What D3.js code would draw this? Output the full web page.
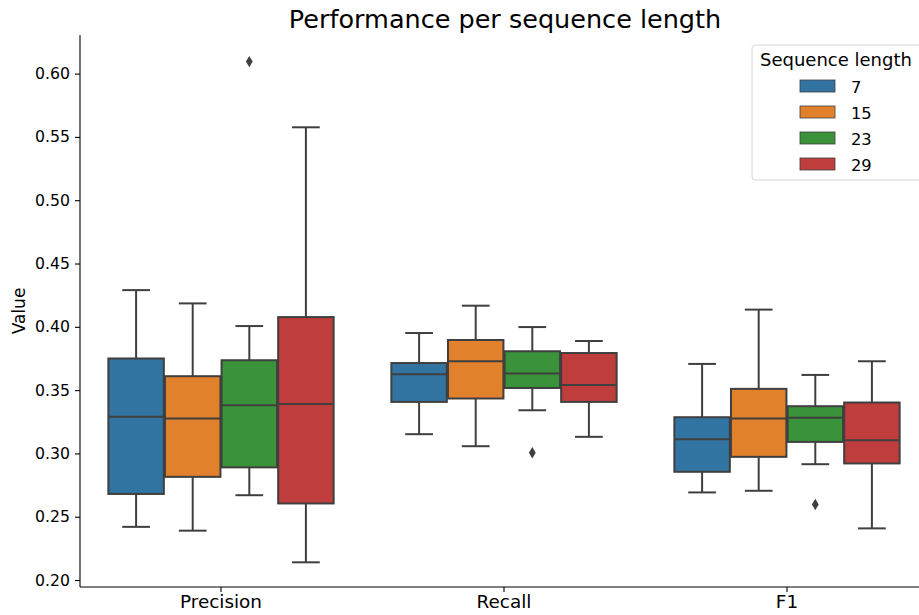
<!DOCTYPE html>
<html>
<head>
<meta charset="utf-8">
<script src="https://cdn.jsdelivr.net/npm/d3@7"></script>
<style>
  body { margin: 0; background: #fff; }
  svg { display: block; font-family: "DejaVu Sans", sans-serif; }
</style>
</head>
<body>
<svg id="chart" width="919" height="615"></svg>
<script>
// Metrics on the x axis and the sequence lengths used as hue
const metrics = ["Precision", "Recall", "F1"];
const seqLengths = ["7", "15", "23", "29"];
const palette = ["#3274a1", "#e1812c", "#3a923a", "#c03d3e"];

// Box summaries per metric, one per sequence length: [whiskerLow, q1, median, q3, whiskerHigh]
const precisionStats = [
  [0.242, 0.268, 0.329, 0.375, 0.429],
  [0.239, 0.2815, 0.3276, 0.361, 0.4185],
  [0.267, 0.289, 0.338, 0.3736, 0.4006],
  [0.214, 0.2605, 0.339, 0.4077, 0.5576]
];
const recallStats = [
  [0.3152, 0.3407, 0.3625, 0.3714, 0.3951],
  [0.3057, 0.3434, 0.3728, 0.3896, 0.4167],
  [0.3341, 0.3517, 0.3631, 0.3807, 0.3998],
  [0.3131, 0.3407, 0.3541, 0.3793, 0.3888]
];
const f1Stats = [
  [0.2692, 0.2855, 0.3112, 0.3286, 0.3707],
  [0.2705, 0.2973, 0.3276, 0.351, 0.4136],
  [0.2915, 0.3091, 0.3281, 0.3373, 0.362],
  [0.2408, 0.2921, 0.3105, 0.3402, 0.3728]
];
// Outliers: [metric, sequence length, value]
const outliers = [
  ["Precision", "23", 0.6095],
  ["Recall", "23", 0.3005],
  ["F1", "23", 0.2597]
];
const yTicks = [0.20, 0.25, 0.30, 0.35, 0.40, 0.45, 0.50, 0.55, 0.60];

const statsByMetric = { Precision: precisionStats, Recall: recallStats, F1: f1Stats };

const svg = d3.select("#chart");
const plotLeft = 80, plotRight = 928.5, plotTop = 35, plotBottom = 587;
const fontFamily = "DejaVu Sans, sans-serif";

const x = d3.scaleBand().domain(metrics).range([plotLeft - 0.5, plotRight]).padding(0);
const hue = d3.scaleBand().domain(seqLengths)
  .range([0, x.bandwidth() * 0.8]).padding(0);
const y = d3.scaleLinear().domain([0.1945, 0.6305]).range([plotBottom, plotTop]);
const color = d3.scaleOrdinal().domain(seqLengths).range(palette);

const lineColor = "#3f3f3f";

// Axes
const yAxis = svg.append("g")
  .attr("transform", `translate(${plotLeft},0)`)
  .call(d3.axisLeft(y).tickValues(yTicks).tickFormat(d3.format(".2f")).tickSize(5).tickPadding(5))
  .attr("font-family", fontFamily);
yAxis.select(".domain").attr("d", `M0,${plotTop}V${plotBottom}`).attr("stroke", "#000").attr("stroke-width", 1.1);
yAxis.selectAll(".tick line").attr("stroke", "#000").attr("stroke-width", 1.1);
yAxis.selectAll(".tick text").attr("font-size", 15.7).attr("fill", "#000");

const xAxis = svg.append("g")
  .attr("transform", `translate(0,${plotBottom})`)
  .call(d3.axisBottom(x).tickSize(5).tickPadding(3))
  .attr("font-family", fontFamily);
xAxis.select(".domain").attr("d", `M${plotLeft},0H${plotRight}`).attr("stroke", "#000").attr("stroke-width", 1.1);
xAxis.selectAll(".tick line").attr("stroke", "#000").attr("stroke-width", 1.1);
xAxis.selectAll(".tick text").attr("font-size", 18.4).attr("fill", "#000");

// Boxes
const boxes = [];
metrics.forEach(m => {
  statsByMetric[m].forEach((s, i) => {
    boxes.push({ metric: m, seq: seqLengths[i], lo: s[0], q1: s[1], med: s[2], q3: s[3], hi: s[4] });
  });
});

const groupOffset = x.bandwidth() * 0.1;
const plot = svg.append("g");
const bw = hue.bandwidth();
const boxW = bw * 0.98;

const g = plot.selectAll("g.box").data(boxes).join("g").attr("class", "box")
  .attr("transform", d => `translate(${x(d.metric) + groupOffset + hue(d.seq) + (bw - boxW) / 2},0)`);

// whiskers
g.append("line").attr("x1", boxW / 2).attr("x2", boxW / 2)
  .attr("y1", d => y(d.hi)).attr("y2", d => y(d.q3))
  .attr("stroke", lineColor).attr("stroke-width", 2);
g.append("line").attr("x1", boxW / 2).attr("x2", boxW / 2)
  .attr("y1", d => y(d.q1)).attr("y2", d => y(d.lo))
  .attr("stroke", lineColor).attr("stroke-width", 2);
// caps
["hi", "lo"].forEach(k => {
  g.append("line").attr("x1", boxW * 0.25).attr("x2", boxW * 0.75)
    .attr("y1", d => y(d[k])).attr("y2", d => y(d[k]))
    .attr("stroke", lineColor).attr("stroke-width", 2);
});
// box body
g.append("rect").attr("x", 0).attr("width", boxW)
  .attr("y", d => y(d.q3)).attr("height", d => y(d.q1) - y(d.q3))
  .attr("fill", d => color(d.seq)).attr("stroke", lineColor).attr("stroke-width", 2);
// median
g.append("line").attr("x1", 0).attr("x2", boxW)
  .attr("y1", d => y(d.med)).attr("y2", d => y(d.med))
  .attr("stroke", lineColor).attr("stroke-width", 2);

// Outlier diamonds
const diamond = d3.symbol().type(d3.symbolDiamond).size(22);
plot.selectAll("path.outlier").data(outliers).join("path").attr("class", "outlier")
  .attr("d", diamond)
  .attr("transform", d => `translate(${x(d[0]) + groupOffset + hue(d[1]) + bw / 2},${y(d[2])}) scale(1.35,1.3)`)
  .attr("fill", lineColor);

// Title and axis label
svg.append("text").attr("x", 505).attr("y", 28).attr("text-anchor", "middle")
  .attr("font-size", 25.5).attr("fill", "#000").text("Performance per sequence length");
svg.append("text").attr("transform", "translate(25,311) rotate(-90)").attr("text-anchor", "middle")
  .attr("font-size", 17).attr("fill", "#000").text("Value");

// Legend
const lg = svg.append("g").attr("transform", "translate(752,45)");
lg.append("rect").attr("x", 0).attr("y", 0).attr("width", 178).attr("height", 135).attr("rx", 3)
  .attr("fill", "#fff").attr("fill-opacity", 0.8).attr("stroke", "#d6d6d6");
lg.append("text").attr("x", 8).attr("y", 21).attr("font-size", 18).attr("fill", "#000").text("Sequence length");
const items = lg.selectAll("g.item").data(seqLengths).join("g").attr("class", "item")
  .attr("transform", (d, i) => `translate(48,${35 + i * 26})`);
items.append("rect").attr("width", 35).attr("height", 12)
  .attr("fill", d => color(d)).attr("stroke", lineColor).attr("stroke-width", 0.8);
items.append("text").attr("x", 51).attr("y", 12.5).attr("font-size", 16.3).attr("fill", "#000").text(d => d);
</script>
</body>
</html>
